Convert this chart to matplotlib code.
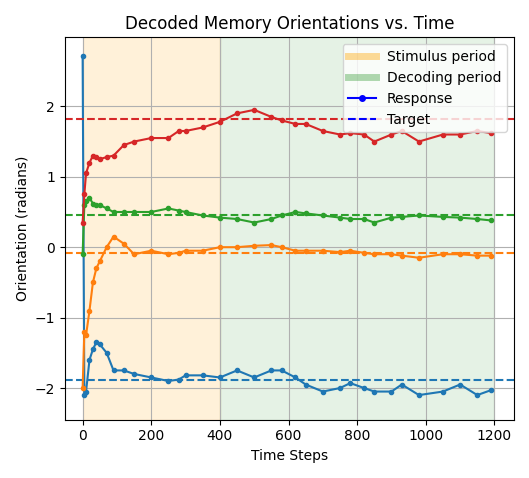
import matplotlib.pyplot as plt
from matplotlib.lines import Line2D

steps = [0, 5, 10, 20, 30, 40, 50, 70, 90, 120, 150, 200, 250, 280, 300, 350, 400, 450,
         500, 550, 580, 620, 650, 700, 750, 780, 820, 850, 900, 930, 980, 1050, 1100, 1150, 1190]
blue = [2.72, -2.1, -2.05, -1.6, -1.45, -1.35, -1.38, -1.5, -1.75, -1.75, -1.8, -1.85, -1.9,
        -1.88, -1.82, -1.82, -1.85, -1.75, -1.85, -1.75, -1.75, -1.85, -1.95, -2.05, -2.0,
        -1.93, -2.0, -2.05, -2.05, -1.95, -2.1, -2.05, -1.95, -2.1, -2.03]
red = [0.35, 0.75, 1.05, 1.2, 1.3, 1.28, 1.25, 1.28, 1.3, 1.45, 1.5, 1.55, 1.55, 1.65, 1.65,
       1.7, 1.78, 1.9, 1.95, 1.85, 1.8, 1.75, 1.75, 1.65, 1.6, 1.62, 1.6, 1.5, 1.6, 1.65, 1.5,
       1.6, 1.6, 1.65, 1.62]
green = [-0.1, 0.6, 0.65, 0.7, 0.62, 0.6, 0.6, 0.55, 0.5, 0.5, 0.5, 0.5, 0.55, 0.52, 0.5,
         0.45, 0.42, 0.4, 0.35, 0.4, 0.45, 0.5, 0.48, 0.45, 0.42, 0.4, 0.4, 0.35, 0.42, 0.43,
         0.45, 0.43, 0.42, 0.4, 0.38]
orange = [-2.0, -1.2, -1.25, -0.9, -0.5, -0.3, -0.2, 0.0, 0.15, 0.05, -0.1, -0.05, -0.1,
          -0.08, -0.05, -0.05, 0.0, 0.0, 0.02, 0.03, 0.0, -0.05, -0.05, -0.05, -0.07, -0.05,
          -0.08, -0.1, -0.1, -0.12, -0.15, -0.1, -0.1, -0.12, -0.12]
targets = [-1.88, -0.08, 0.46, 1.82]
colors = ['tab:blue', 'tab:orange', 'tab:green', 'tab:red']

fig, ax = plt.subplots(figsize=(5.29, 4.78), dpi=100)
ax.axvspan(0, 400, color='orange', alpha=0.15)
ax.axvspan(400, 1200, color='green', alpha=0.1)
for vals, t, c in zip([blue, orange, green, red], targets, colors):
    ax.plot(steps, vals, '.-', color=c, lw=1.5, ms=6)
    ax.axhline(t, color=c, ls='--')

handles = [Line2D([], [], color='orange', alpha=0.4, lw=5),
           Line2D([], [], color='green', alpha=0.3, lw=5),
           Line2D([], [], color='blue', marker='o', ms=4),
           Line2D([], [], color='blue', ls='--')]
ax.legend(handles, ['Stimulus period', 'Decoding period', 'Response', 'Target'], loc='upper right')
ax.set_title('Decoded Memory Orientations vs. Time')
ax.set_xlabel('Time Steps')
ax.set_ylabel('Orientation (radians)')
ax.set_xlim(-52, 1257)
ax.set_ylim(-2.45, 2.98)
ax.grid(True)
fig.tight_layout()
fig.savefig('out.png')
